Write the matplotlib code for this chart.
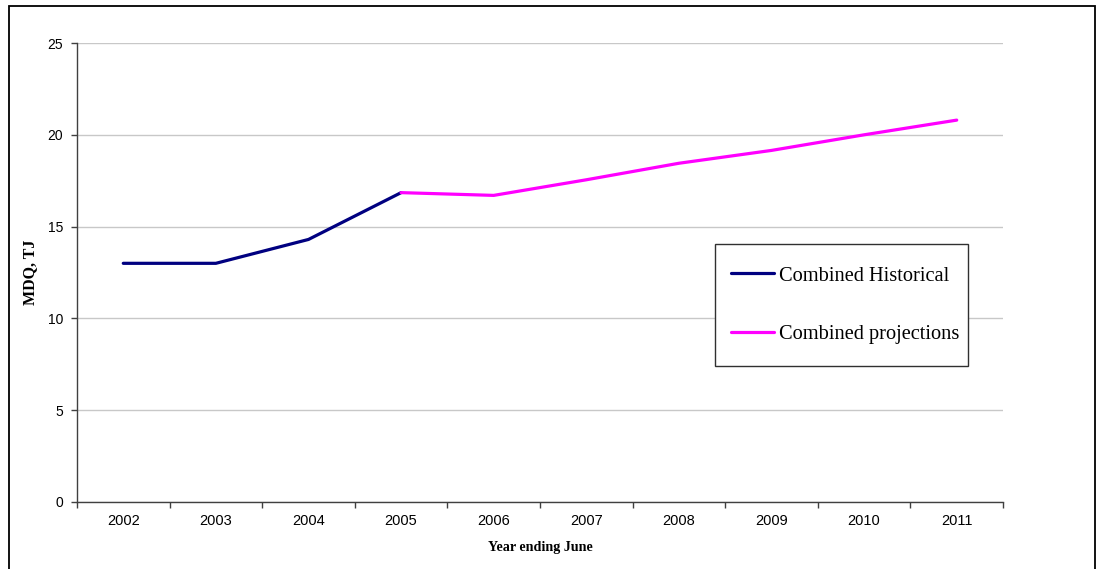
import matplotlib.pyplot as plt
from matplotlib.patches import Rectangle

# MDQ по годам (год, заканчивающийся в июне)
years = ['2002', '2003', '2004', '2005', '2006', '2007', '2008', '2009', '2010', '2011']
historical = [13.0, 13.0, 14.3, 16.85]                       # 2002-2005
projections = [16.85, 16.7, 17.55, 18.45, 19.15, 20.0, 20.8]  # 2005-2011

plt.rcParams['font.family'] = 'Liberation Sans'

fig = plt.figure(figsize=(10.98, 5.69), dpi=100)
ax = fig.add_axes([0.0701, 0.1178, 0.8434, 0.8066])

x = list(range(len(years)))
ax.plot(x[:len(historical)], historical, color='#000080', linewidth=2.3,
        solid_capstyle='round', label='Combined Historical')
ax.plot(x[len(years) - len(projections):], projections, color='#FF00FF', linewidth=2.3,
        solid_capstyle='round', label='Combined projections')

ax.set_xlim(-0.5, len(years) - 0.5)
ax.set_ylim(0, 25)
ax.set_yticks([0, 5, 10, 15, 20, 25])
ax.yaxis.grid(True, color='#c8c8c8', linewidth=1.0)
ax.set_axisbelow(True)

# подписи лет по центру категорий, засечки на границах
ax.set_xticks(x)
ax.set_xticklabels(years, fontsize=10.5)
ax.set_xticks([i - 0.5 for i in range(len(years) + 1)], minor=True)
ax.tick_params(axis='x', which='major', length=0, pad=9)
ax.tick_params(axis='x', which='minor', length=4, width=1, color='#404040', direction='out')
ax.tick_params(axis='y', length=4, width=1, color='#404040', labelsize=10, pad=6)

for side in ['top', 'right']:
    ax.spines[side].set_visible(False)
for side in ['left', 'bottom']:
    ax.spines[side].set_color('#404040')
    ax.spines[side].set_linewidth(1.0)

ax.set_ylabel('MDQ, TJ', family='Liberation Serif', fontweight='bold', fontsize=11.5, labelpad=7)
ax.set_xlabel('Year ending June', family='Liberation Serif', fontweight='bold', fontsize=10.2, labelpad=9)

# легенда в отдельной рамке
leg_box = (0.689, 0.2963, 0.273, 0.2658)
ax.add_patch(Rectangle(leg_box[:2], leg_box[2], leg_box[3], transform=ax.transAxes,
                       facecolor='white', edgecolor='#303030', linewidth=1.0, zorder=4))
leg = ax.legend(loc='center', bbox_to_anchor=leg_box, mode='expand',
                prop={'family': 'Liberation Serif', 'size': 14.7}, frameon=False,
                borderpad=0.8, labelspacing=1.9, handlelength=2.1,
                handletextpad=0.25, borderaxespad=0)
leg.set_zorder(5)

# рамка вокруг всей диаграммы
fig.patches.append(Rectangle((9 / 1098, -0.02), (1095 - 9) / 1098, 1.02 - 6 / 569,
                             transform=fig.transFigure, fill=False, edgecolor='black',
                             linewidth=1.3, clip_on=False))

plt.savefig('out.png', dpi=100)
plt.close()
